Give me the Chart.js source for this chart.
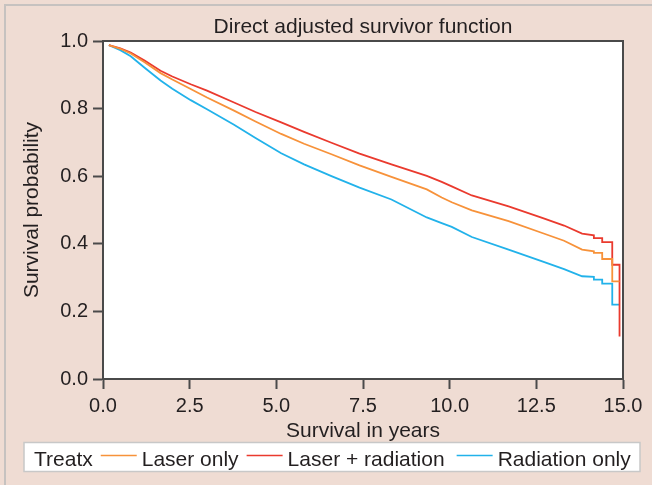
<!DOCTYPE html>
<html>
<head>
<meta charset="utf-8">
<script src="https://cdn.jsdelivr.net/npm/chart.js@4/dist/chart.umd.min.js"></script>
<style>
  html, body { margin: 0; padding: 0; background: #efdcd3; }
  canvas { display: block; }
</style>
</head>
<body>
<canvas id="chart" width="652" height="485"></canvas>
<script>
const chartTitle = "Direct adjusted survivor function";
const legendTitle = "Treatx";
const seriesNames = ["Laser only", "Laser + radiation", "Radiation only"];
const seriesColors = ["#f7923a", "#ea3a2e", "#22b2ea"];

// survival time in years (repeated times are the vertical drops of the steps)
const years = [0.17, 0.5, 0.8, 1.2, 1.66, 2.0, 2.53, 3.0, 3.78, 4.4, 5.14, 5.8, 6.59, 7.4, 8.32,
  9.34, 9.77, 10.06, 10.64, 11.7, 12.67, 13.3, 13.82, 14.16, 14.16, 14.4, 14.4, 14.69, 14.69, 14.9, 14.9];

const laserOnly = [0.988, 0.977, 0.963, 0.937, 0.905, 0.886, 0.858, 0.833, 0.794, 0.762, 0.725, 0.696, 0.665, 0.632, 0.598,
  0.561, 0.537, 0.523, 0.499, 0.467, 0.432, 0.409, 0.383, 0.378, 0.373, 0.373, 0.355, 0.355, 0.289, 0.289, 0.289];
const laserRadiation = [0.988, 0.978, 0.966, 0.942, 0.912, 0.895, 0.872, 0.853, 0.818, 0.790, 0.759, 0.731, 0.699, 0.667, 0.635,
  0.601, 0.583, 0.570, 0.543, 0.511, 0.477, 0.454, 0.430, 0.425, 0.417, 0.417, 0.405, 0.405, 0.338, 0.338, 0.126];
const radiationOnly = [0.988, 0.973, 0.955, 0.921, 0.883, 0.859, 0.825, 0.798, 0.752, 0.713, 0.668, 0.635, 0.600, 0.566, 0.531,
  0.478, 0.461, 0.450, 0.420, 0.383, 0.348, 0.325, 0.304, 0.302, 0.294, 0.294, 0.282, 0.282, 0.220, 0.220, 0.220];

const xTicks = [0, 2.5, 5, 7.5, 10, 12.5, 15];
const yTicks = [0, 0.2, 0.4, 0.6, 0.8, 1.0];

const series = [laserOnly, laserRadiation, radiationOnly];
const axisColor = "#4a4a4a";
const textColor = "#231f20";
const fontFamily = '"Liberation Sans", Arial, sans-serif';

Chart.defaults.font.family = fontFamily;
Chart.defaults.color = textColor;

// pink page, white plot box, box border, title and the inline legend
const framePlugin = {
  id: "frame",
  beforeDraw(chart) {
    const { ctx, chartArea: a } = chart;
    ctx.save();
    ctx.fillStyle = "#efdcd3";
    ctx.fillRect(0, 0, chart.width, chart.height);
    ctx.strokeStyle = "#c6c2c0";
    ctx.lineWidth = 2;
    ctx.strokeRect(5, 5, chart.width + 20, chart.height + 20);
    ctx.fillStyle = "#ffffff";
    ctx.fillRect(a.left, a.top, a.right - a.left, a.bottom - a.top);
    ctx.restore();
  },
  afterDraw(chart) {
    const { ctx, chartArea: a } = chart;
    ctx.save();
    ctx.strokeStyle = axisColor;
    ctx.lineWidth = 2;
    ctx.strokeRect(a.left, a.top, a.right - a.left, a.bottom - a.top);

    ctx.fillStyle = textColor;
    ctx.font = "21px " + fontFamily;
    ctx.textAlign = "center";
    ctx.textBaseline = "alphabetic";
    ctx.fillText(chartTitle, (a.left + a.right) / 2, 33);

    // legend box
    ctx.fillStyle = "#ffffff";
    ctx.fillRect(24, 442.5, 616, 29);
    ctx.strokeStyle = "#c8c8c8";
    ctx.lineWidth = 1.5;
    ctx.strokeRect(24, 442.5, 616, 29);
    ctx.textAlign = "left";
    ctx.fillStyle = textColor;
    let x = 34;
    ctx.fillText(legendTitle, x, 465.5);
    x += ctx.measureText(legendTitle).width;
    chart.data.datasets.forEach((ds, i) => {
      x += i === 2 ? 12 : 8;
      ctx.strokeStyle = ds.borderColor;
      ctx.lineWidth = 1.5;
      ctx.beginPath();
      ctx.moveTo(x, 455.5);
      ctx.lineTo(x + 36, 455.5);
      ctx.stroke();
      x += 41;
      ctx.fillStyle = textColor;
      ctx.fillText(ds.label, x, 465.5);
      x += ctx.measureText(ds.label).width;
    });
    ctx.restore();
  }
};

new Chart(document.getElementById("chart"), {
  type: "line",
  data: {
    datasets: series.map((vals, i) => ({
      label: seriesNames[i],
      data: years.map((t, j) => ({ x: t, y: vals[j] })),
      borderColor: seriesColors[i],
      borderWidth: 1.8,
      pointRadius: 0,
      tension: 0,
      fill: false
    }))
  },
  options: {
    responsive: false,
    animation: false,
    layout: { padding: { left: 20, right: 29, top: 41, bottom: 41 } },
    plugins: { legend: { display: false }, title: { display: false }, tooltip: { enabled: false } },
    scales: {
      x: {
        type: "linear",
        min: 0,
        max: 15,
        afterBuildTicks: s => { s.ticks = xTicks.map(v => ({ value: v })); },
        afterFit: s => { s.height = 65; },
        ticks: { padding: 5, font: { size: 20 }, color: textColor, maxRotation: 0, callback: v => v.toFixed(1) },
        grid: { drawOnChartArea: false, drawTicks: true, tickLength: 10, tickColor: axisColor, tickWidth: 2 },
        border: { display: true, color: axisColor, width: 2 },
        title: { display: true, text: "Survival in years", font: { size: 21 }, color: textColor, padding: 0 }
      },
      y: {
        min: 0,
        max: 1,
        afterBuildTicks: s => { s.ticks = yTicks.map(v => ({ value: v })); },
        afterFit: s => { s.width = 83; },
        ticks: { padding: 5, font: { size: 20 }, color: textColor, callback: v => v.toFixed(1) },
        grid: { drawOnChartArea: false, drawTicks: true, tickLength: 10, tickColor: axisColor, tickWidth: 2 },
        border: { display: true, color: axisColor, width: 2 },
        title: { display: true, text: "Survival probability", font: { size: 21 }, color: textColor, padding: 0 }
      }
    }
  },
  plugins: [framePlugin]
});
</script>
</body>
</html>
